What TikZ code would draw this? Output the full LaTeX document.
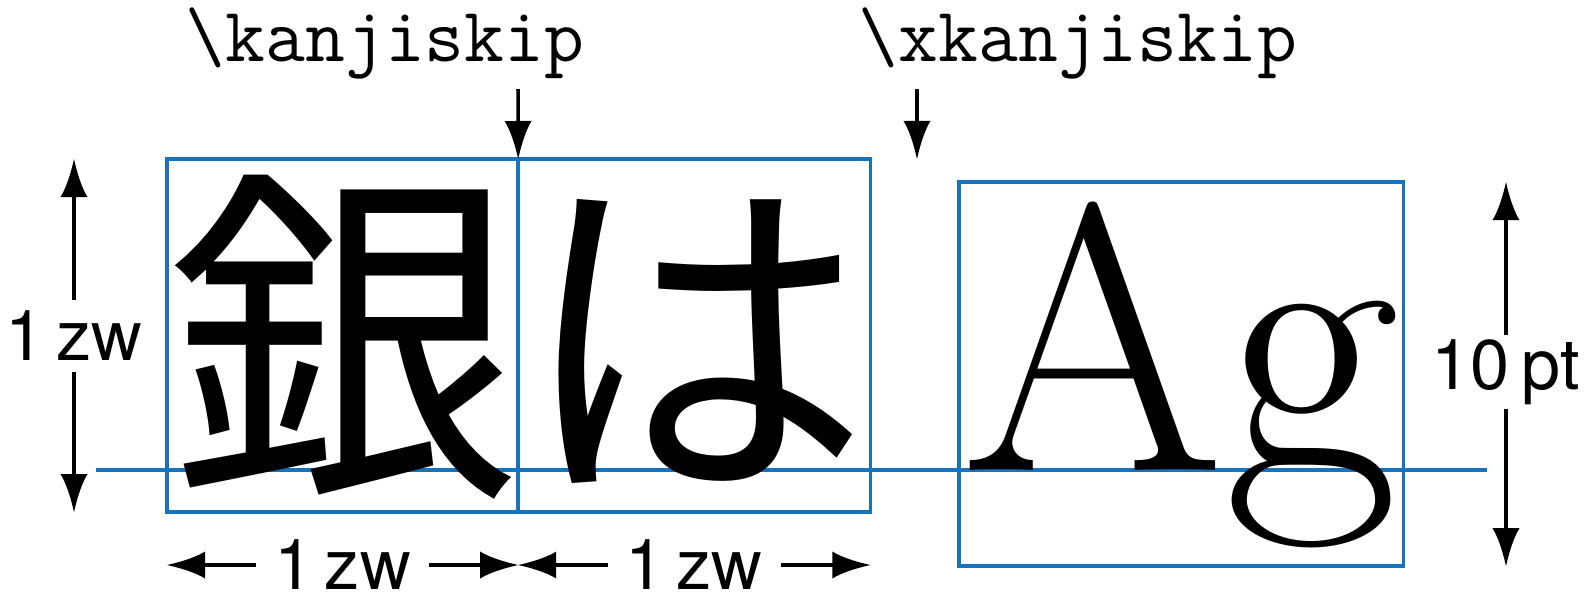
\documentclass[tikz,border=0pt]{standalone}
\usepackage{fontspec}
\newfontfamily\jpfont{Noto Sans CJK JP}
\newfontfamily\unitfont{TeX Gyre Heros}
\usetikzlibrary{arrows.meta, calc}
\definecolor{frameblue}{HTML}{1673BE}

% arrow tip with concave flanks
\pgfdeclarearrow{
  name = Flare,
  parameters = {\the\pgfarrowlength,\the\pgfarrowwidth},
  setup code = {
    \pgfarrowssettipend{0pt}
    \pgfarrowssetlineend{-.5\pgfarrowlength}
    \pgfarrowssetbackend{-\pgfarrowlength}
    \pgfarrowssetvisualbackend{-\pgfarrowlength}
    \pgfarrowshullpoint{0pt}{0pt}
    \pgfarrowsupperhullpoint{-\pgfarrowlength}{.5\pgfarrowwidth}
    \pgfarrowssavethe\pgfarrowlength
    \pgfarrowssavethe\pgfarrowwidth
  },
  drawing code = {
    \pgfpathmoveto{\pgfqpoint{0pt}{0pt}}
    \pgfpathcurveto{\pgfqpoint{-.45\pgfarrowlength}{.14\pgfarrowwidth}}
      {\pgfqpoint{-.8\pgfarrowlength}{.32\pgfarrowwidth}}
      {\pgfqpoint{-\pgfarrowlength}{.5\pgfarrowwidth}}
    \pgfpathlineto{\pgfqpoint{-\pgfarrowlength}{-.5\pgfarrowwidth}}
    \pgfpathcurveto{\pgfqpoint{-.8\pgfarrowlength}{-.32\pgfarrowwidth}}
      {\pgfqpoint{-.45\pgfarrowlength}{-.14\pgfarrowwidth}}
      {\pgfqpoint{0pt}{0pt}}
    \pgfpathclose
    \pgfusepathqfill
  },
  defaults = {length=3.8mm, width=2.7mm}
}

\begin{document}
\begin{tikzpicture}[
    x=0.01cm, y=-0.01cm,
    frame/.style={draw=frameblue, line width=1pt, outer sep=0pt, inner sep=0pt},
    glyph/.style={inner sep=0pt, anchor=base west},
    dim/.style={-{Flare[length=3.8mm, width=2.7mm]}, line width=1pt},
    unit/.style={font=\unitfont\fontsize{20}{24}\selectfont,
                 inner xsep=5pt, inner ysep=3pt},
    skipname/.style={font=\ttfamily\fontsize{22}{26}\selectfont,
                     inner sep=0pt, anchor=base},
  ]
    \useasboundingbox (0,0) rectangle (1587,593);

    % character frames
    \node[frame, anchor=north west, minimum width=3.51cm, minimum height=3.53cm]
      (box1) at (167,159) {};
    \node[frame, anchor=north west, minimum width=3.52cm, minimum height=3.53cm]
      (box2) at (box1.north east) {};
    \node[frame, anchor=north west, minimum width=4.44cm, minimum height=3.84cm]
      (box3) at (959,182) {};

    % baseline
    \draw[frameblue, line width=1pt] (96,470) -- (1487,470);

    % glyphs
    \node[glyph, font=\jpfont\fontsize{100}{100}\selectfont] (gin) at (167,470) {銀};
    \node[glyph, font=\jpfont\fontsize{100}{100}\selectfont] (ha) at (518,470) {は};
    \node[glyph, font=\fontsize{108}{108}\selectfont] (ag) at (961,470) {Ag};

    % skip names
    \node[skipname] (kskip) at (385,61) {\textbackslash kanjiskip};
    \node[skipname] (xkskip) at (1078,61) {\textbackslash xkanjiskip};
    \coordinate (kfrom) at (518,89);
    \coordinate (xkfrom) at (917,89);
    \coordinate (xkto) at (917,159);
    \draw[dim] (kfrom) -- (box1.north east);
    \draw[dim] (xkfrom) -- (xkto);

    % dimensions
    \node[unit] (zwl) at (74,336) {1\,zw};
    \draw[dim] (zwl.north) -- (zwl.north |- box1.north);
    \draw[dim] (zwl.south) -- (zwl.south |- box1.south);

    \node[unit, inner ysep=0pt] (zwa) at (box1.south |- 0,565) {1\,zw};
    \draw[dim] (zwa.west) -- (zwa.west -| box1.west);
    \draw[dim] (zwa.east) -- (zwa.east -| box1.east);

    \node[unit, inner ysep=0pt] (zwb) at (box2.south |- 0,565) {1\,zw};
    \draw[dim] (zwb.west) -- (zwb.west -| box2.west);
    \draw[dim] (zwb.east) -- (zwb.east -| box2.east);

    \node[unit, inner ysep=1pt] (tenpt) at (1506,372) {10\,pt};
    \draw[dim] (tenpt.north) -- (tenpt.north |- box3.north);
    \draw[dim] (tenpt.south) -- (tenpt.south |- box3.south);
\end{tikzpicture}
\end{document}
